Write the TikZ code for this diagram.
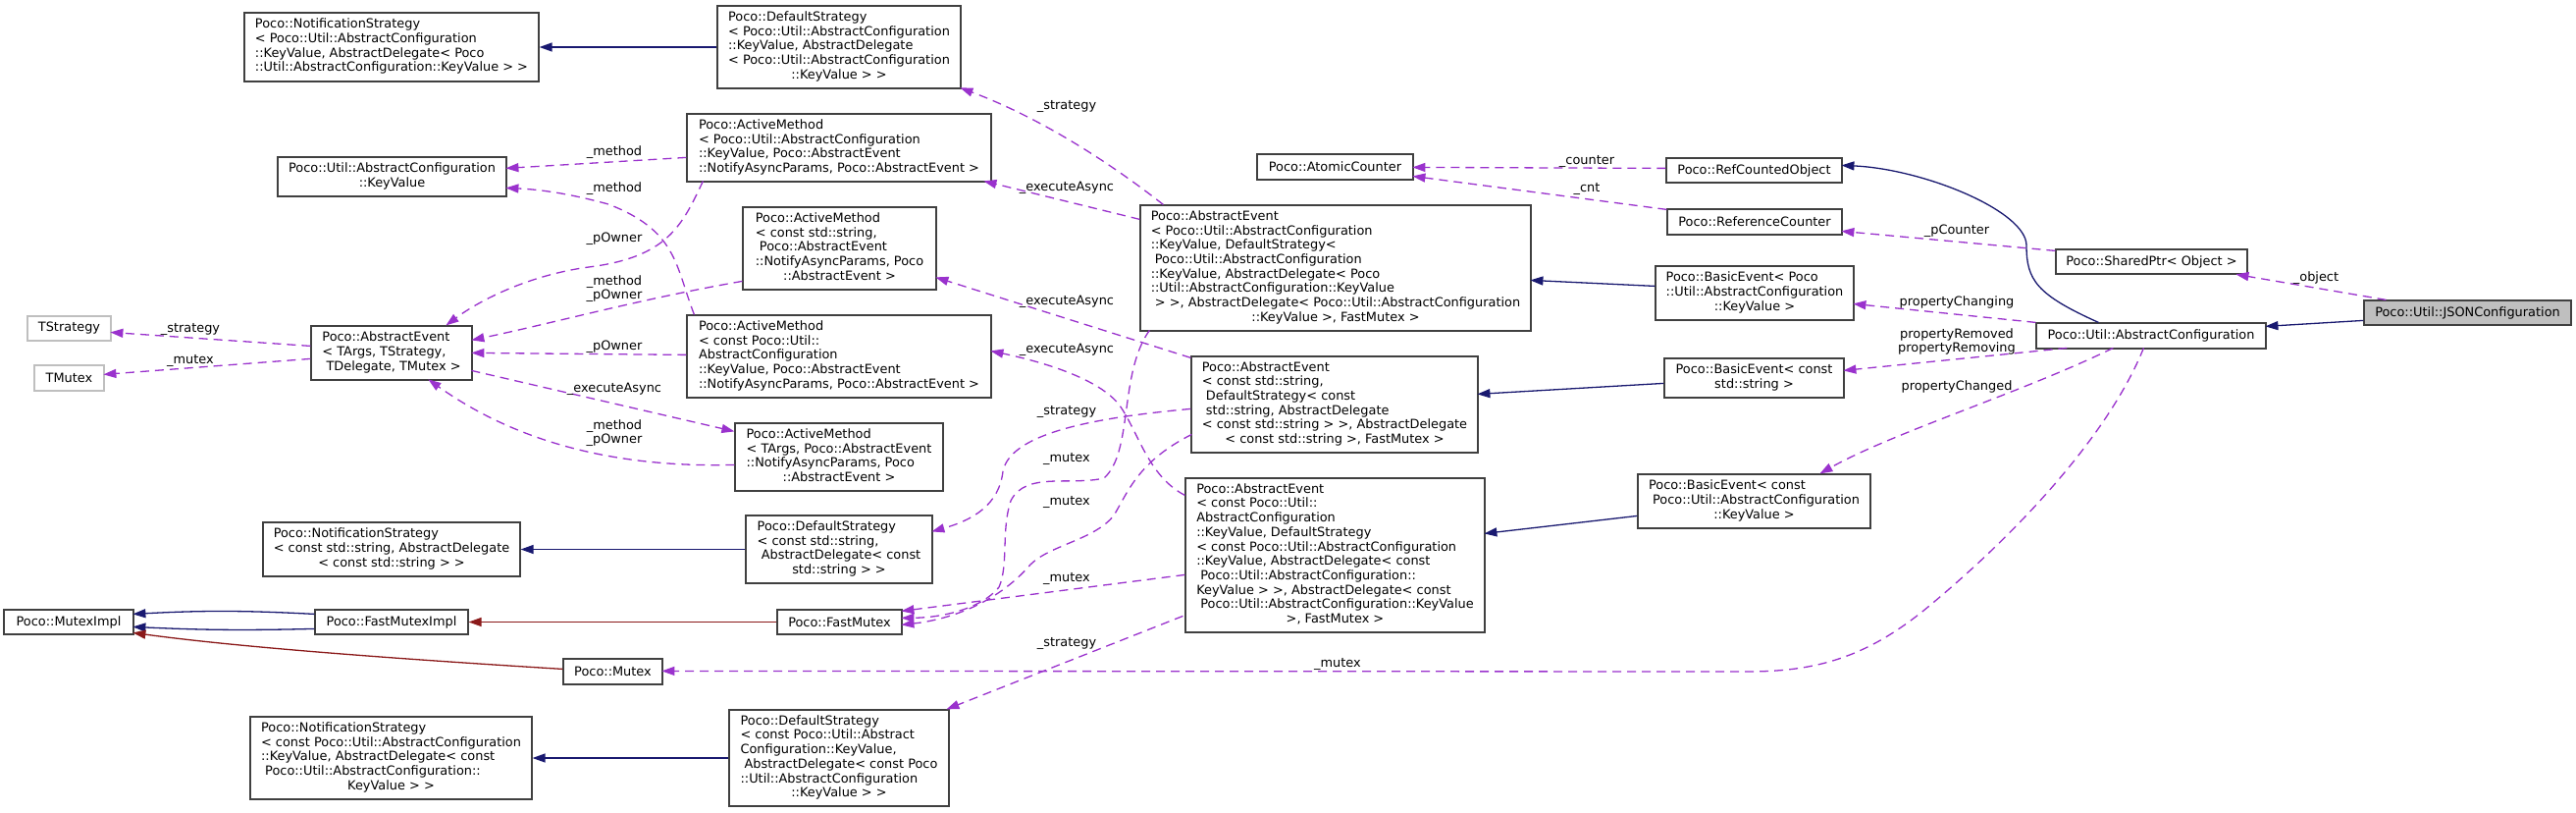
\documentclass[tikz,border=0pt]{standalone}
\usepackage{fontspec}
\setmainfont{DejaVu Sans}
\usetikzlibrary{arrows.meta,calc}
\definecolor{navyc}{HTML}{191970}
\definecolor{dredc}{HTML}{8B1A1A}
\definecolor{orchc}{HTML}{9A32CD}
\definecolor{greyc}{HTML}{BFBFBF}
\newcommand\Tb[1]{\begin{tabular}{@{}l@{}}#1\end{tabular}}
\newcommand\Tc[1]{\begin{tabular}{@{}c@{}}#1\end{tabular}}
\newcommand\Cc[1]{\multicolumn{1}{@{}c@{}}{#1}}
\newcommand\bx[7][box]{\node[#1,minimum width=#5pt,minimum height=#6pt] (#2) at (#3,#4) {#7};}
\begin{document}
\begin{tikzpicture}[x=1pt,y=-1pt,
  nfont/.style={font=\fontsize{12.9}{14.7}\selectfont},
  box/.style={nfont,draw=black!75,line width=1.2pt,fill=white,inner sep=0pt},
  gbox/.style={box,draw=greyc},
  sbox/.style={box,fill=greyc},
  lab/.style={nfont,inner sep=0pt,align=center},
  tip/.style={-{Triangle[length=13pt,width=9pt]}},
  inh/.style={tip,draw=navyc,line width=1.3pt},
  priv/.style={tip,draw=dredc,line width=1.3pt},
  use/.style={tip,draw=orchc,line width=1.3pt,dash pattern=on 9pt off 6pt}]
\fill[white] (0,0) rectangle (2625,827);
\useasboundingbox (0,0) rectangle (2625,827);

% nodes
\bx{NSKV}{399}{48}{300}{70}{\Tb{Poco::NotificationStrategy\\< Poco::Util::AbstractConfiguration\\::KeyValue, AbstractDelegate< Poco\\::Util::AbstractConfiguration::KeyValue > >}}
\bx{KV}{399.5}{180}{233}{40}{\Tc{Poco::Util::AbstractConfiguration\\::KeyValue}}
\bx[gbox]{TS}{70.5}{334.5}{85}{25}{TStrategy}
\bx[gbox]{TM}{70.5}{385}{71}{26}{TMutex}
\bx{AET}{399}{359.5}{164}{55}{\Tb{Poco::AbstractEvent\\< TArgs, TStrategy,\\\ TDelegate, TMutex >}}
\bx{NSS}{399}{559.5}{262}{55}{\Tb{Poco::NotificationStrategy\\< const std::string, AbstractDelegate\\\Cc{< const std::string > >}}}
\bx{MI}{70}{633.5}{132}{25}{Poco::MutexImpl}
\bx{FMI}{399}{633.5}{156}{25}{Poco::FastMutexImpl}
\bx{MX}{624.5}{684}{101}{26}{Poco::Mutex}
\bx{NSC}{398.5}{772}{287}{84}{\Tb{Poco::NotificationStrategy\\< const Poco::Util::AbstractConfiguration\\::KeyValue, AbstractDelegate< const\\\ Poco::Util::AbstractConfiguration::\\\Cc{KeyValue > >}}}
\bx{DSKV}{855}{48}{248}{84}{\Tb{Poco::DefaultStrategy\\< Poco::Util::AbstractConfiguration\\::KeyValue, AbstractDelegate\\< Poco::Util::AbstractConfiguration\\\Cc{::KeyValue > >}}}
\bx{AMKV}{855}{150.5}{310}{69}{\Tb{Poco::ActiveMethod\\< Poco::Util::AbstractConfiguration\\::KeyValue, Poco::AbstractEvent\\::NotifyAsyncParams, Poco::AbstractEvent >}}
\bx{AMS}{855.5}{253}{197}{84}{\Tb{Poco::ActiveMethod\\< const std::string,\\\ Poco::AbstractEvent\\::NotifyAsyncParams, Poco\\\Cc{::AbstractEvent >}}}
\bx{AMC}{855}{363}{310}{84}{\Tb{Poco::ActiveMethod\\< const Poco::Util::\\AbstractConfiguration\\::KeyValue, Poco::AbstractEvent\\::NotifyAsyncParams, Poco::AbstractEvent >}}
\bx{AMT}{855}{465.5}{212}{69}{\Tb{Poco::ActiveMethod\\< TArgs, Poco::AbstractEvent\\::NotifyAsyncParams, Poco\\\Cc{::AbstractEvent >}}}
\bx{DSS}{855}{559.5}{190}{69}{\Tb{Poco::DefaultStrategy\\< const std::string,\\\ AbstractDelegate< const\\\Cc{std::string > >}}}
\bx{FM}{855.5}{633.5}{127}{25}{Poco::FastMutex}
\bx{DSC}{855}{772}{224}{98}{\Tb{Poco::DefaultStrategy\\< const Poco::Util::Abstract\\Configuration::KeyValue,\\\ AbstractDelegate< const Poco\\::Util::AbstractConfiguration\\\Cc{::KeyValue > >}}}
\bx{AEKV}{1361}{273}{398}{128}{\Tb{Poco::AbstractEvent\\< Poco::Util::AbstractConfiguration\\::KeyValue, DefaultStrategy<\\\ Poco::Util::AbstractConfiguration\\::KeyValue, AbstractDelegate< Poco\\::Util::AbstractConfiguration::KeyValue\\\ > >, AbstractDelegate< Poco::Util::AbstractConfiguration\\\Cc{::KeyValue >, FastMutex >}}}
\bx{AES}{1360}{412}{292}{98}{\Tb{Poco::AbstractEvent\\< const std::string,\\\ DefaultStrategy< const\\\ std::string, AbstractDelegate\\< const std::string > >, AbstractDelegate\\\Cc{< const std::string >, FastMutex >}}}
\bx{AEC}{1360.5}{565.5}{305}{157}{\Tb{Poco::AbstractEvent\\< const Poco::Util::\\AbstractConfiguration\\::KeyValue, DefaultStrategy\\< const Poco::Util::AbstractConfiguration\\::KeyValue, AbstractDelegate< const\\\ Poco::Util::AbstractConfiguration::\\KeyValue > >, AbstractDelegate< const\\\ Poco::Util::AbstractConfiguration::KeyValue\\\Cc{>, FastMutex >}}}
\bx{ATC}{1360.5}{170}{159}{26}{Poco::AtomicCounter}
\bx{RCO}{1787.5}{173.5}{179}{25}{Poco::RefCountedObject}
\bx{RC}{1788}{226}{178}{26}{Poco::ReferenceCounter}
\bx{BEKV}{1788}{298.5}{202}{55}{\Tb{Poco::BasicEvent< Poco\\::Util::AbstractConfiguration\\\Cc{::KeyValue >}}}
\bx{BES}{1787.5}{385}{183}{40}{\Tb{Poco::BasicEvent< const\\\Cc{std::string >}}}
\bx{BEC}{1787.5}{510.5}{237}{55}{\Tb{Poco::BasicEvent< const\\\ Poco::Util::AbstractConfiguration\\\Cc{::KeyValue >}}}
\bx{SP}{2192.5}{266.5}{195}{25}{Poco::SharedPtr< Object >}
\bx{AC}{2192}{342}{234}{26}{Poco::Util::AbstractConfiguration}
\bx[sbox]{JS}{2514.5}{318.5}{211}{25}{Poco::Util::JSONConfiguration}

% inheritance
\draw[inh] (DSKV.west) -- (NSKV.east);
\draw[inh] ($(BEKV.north west)+(0,21)$) -- ($(AEKV.north west)+(398,77)$);
\draw[inh] ($(BES.north west)+(0,26)$) -- ($(AES.north west)+(292,39)$);
\draw[inh] ($(BEC.north west)+(0,43)$) -- ($(AEC.north west)+(305,57)$);
\draw[inh] (DSS.west) -- (NSS.east);
\draw[inh] (DSC.west) -- (NSC.east);
\draw[inh] ($(FMI.north west)+(0,5)$) to[bend right=3] ($(MI.north west)+(132,5)$);
\draw[inh] ($(FMI.north west)+(0,20)$) to[bend left=2] ($(MI.north west)+(132,18)$);
\draw[inh] ($(JS.north west)+(0,21)$) -- ($(AC.north west)+(234,4)$);
\draw[inh] ($(AC.north west)+(64,0)$) .. controls (2075,300) and (2065,285) .. (2065,250)
   .. controls (2065,215) and (1960,172) .. ($(RCO.north west)+(179,8)$);
% private
\draw[priv] (FM.west) -- (FMI.east);
\draw[priv] ($(MX.north west)+(0,11)$) .. controls (420,672) and (250,660) .. ($(MI.north west)+(132,24)$);

% usage
\draw[use] ($(JS.north west)+(23,0)$) -- ($(SP.north west)+(184,26)$);
\draw[use] ($(SP.north west)+(0,2)$) -- ($(RC.north west)+(178,23)$);
\draw[use] ($(RCO.north west)+(0,11)$) -- ($(ATC.north west)+(159,14)$);
\draw[use] ($(RC.north west)+(0,1)$) -- ($(ATC.north west)+(159,23)$);
\draw[use] (AC.north west) -- ($(BEKV.north west)+(202,39)$);
\draw[use] ($(AC.north west)+(32,26)$) -- ($(BES.north west)+(183,13)$);
\draw[use] ($(AC.north west)+(79,26)$) .. controls (2060,400) and (1930,440) .. ($(BEC.north west)+(186,0)$);
\draw[use] ($(AC.north west)+(110,26)$) .. controls (2150,440) and (2060,540) .. (1960,622)
   .. controls (1900,670) and (1850,684) .. (1780,684) -- ($(MX.north west)+(101,13)$);
\draw[use] ($(AEKV.north west)+(24,0)$) .. controls (1130,165) and (1060,120) .. ($(DSKV.north west)+(248,84)$);
\draw[use] ($(AEKV.north west)+(0,15)$) -- ($(AMKV.north west)+(303,69)$);
\draw[use] ($(AEKV.north west)+(10,128)$) .. controls (1140,380) and (1155,460) .. (1125,487)
   .. controls (1090,495) and (1045,480) .. (1030,510)
   .. controls (1020,540) and (1028,575) .. (1018,598)
   .. controls (1000,620) and (960,629) .. ($(FM.north west)+(127,9)$);
\draw[use] ($(AES.north west)+(0,2)$) -- ($(AMS.north west)+(197,72)$);
\draw[use] ($(AES.north west)+(0,54)$) .. controls (1120,425) and (1030,440) .. (1022,480)
   .. controls (1018,515) and (990,530) .. ($(DSS.north west)+(190,17)$);
\draw[use] ($(AES.north west)+(1,80)$) .. controls (1160,470) and (1150,500) .. (1135,525)
   .. controls (1115,550) and (1070,555) .. (1050,575)
   .. controls (1020,610) and (975,630) .. ($(FM.north west)+(127,16)$);
\draw[use] ($(AEC.north west)+(0,18)$) .. controls (1170,485) and (1160,440) .. (1141,413)
   .. controls (1120,385) and (1060,368) .. ($(AMC.north west)+(310,37)$);
\draw[use] ($(AEC.north west)+(0,99)$) -- ($(FM.north west)+(127,2)$);
\draw[use] ($(AEC.north west)+(-2,141)$) -- ($(DSC.north west)+(222,0)$);
\draw[use] ($(AET.north west)+(0,21)$) -- ($(TS.north west)+(85,17)$);
\draw[use] ($(AET.north west)+(0,34)$) -- ($(TM.north west)+(71,10)$);
\draw[use] ($(AMKV.north west)+(0,45)$) -- ($(KV.north west)+(233,12)$);
\draw[use] ($(AMC.north west)+(8,0)$) .. controls (688,270) and (690,235) .. (620,208)
   .. controls (580,197) and (550,193) .. ($(KV.north west)+(233,32)$);
\draw[use] ($(AMKV.north west)+(17,69)$) .. controls (695,230) and (680,262) .. (600,272)
   .. controls (540,280) and (490,305) .. ($(AET.north west)+(138,0)$);
\draw[use] ($(AMS.north west)+(0,76)$) .. controls (650,305) and (560,330) .. ($(AET.north west)+(164,15)$);
\draw[use] ($(AMC.north west)+(0,41)$) -- ($(AET.north west)+(164,28)$);
\draw[use] ($(AET.north west)+(164,46)$) -- ($(AMT.north west)+(0,9)$);
\draw[use] ($(AMT.north west)+(0,43)$) .. controls (650,476) and (540,460) .. ($(AET.north west)+(120,55)$);

% labels
\node[lab] (l1) at (194,335) {\_strategy};
\node[lab] (l2) at (194,367) {\_mutex};
\node[lab] (l3) at (626,155) {\_method};
\node[lab] (l4) at (626,192) {\_method};
\node[lab] (l5) at (626,243) {\_pOwner};
\node[lab] (l6) at (626,294) {\_method\\\_pOwner};
\node[lab] (l7) at (626,353) {\_pOwner};
\node[lab] (l8) at (626,396) {\_executeAsync};
\node[lab] (l9) at (626,441) {\_method\\\_pOwner};
\node[lab] (l10) at (1087,108) {\_strategy};
\node[lab] (l11) at (1087,191) {\_executeAsync};
\node[lab] (l12) at (1087,307) {\_executeAsync};
\node[lab] (l13) at (1087,356) {\_executeAsync};
\node[lab] (l14) at (1087,419) {\_strategy};
\node[lab] (l15) at (1087,467) {\_mutex};
\node[lab] (l16) at (1087,511) {\_mutex};
\node[lab] (l17) at (1087,589) {\_mutex};
\node[lab] (l18) at (1087,655) {\_strategy};
\node[lab] (l19) at (1363,676) {\_mutex};
\node[lab] (l20) at (1617,164) {\_counter};
\node[lab] (l21) at (1617,192) {\_cnt};
\node[lab] (l22) at (1994,235) {\_pCounter};
\node[lab] (l23) at (1994,308) {propertyChanging};
\node[lab] (l24) at (1994,348) {propertyRemoved\\propertyRemoving};
\node[lab] (l25) at (1994,394) {propertyChanged};
\node[lab] (l26) at (2360,283) {\_object};
\end{tikzpicture}
\end{document}
